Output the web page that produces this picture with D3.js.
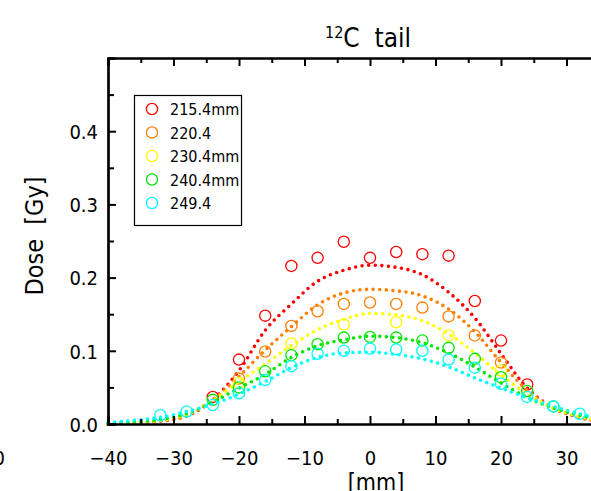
<!DOCTYPE html>
<html>
<head>
<meta charset="utf-8">
<script src="https://cdn.jsdelivr.net/npm/d3@7"></script>
<style>
  body { margin: 0; background: #fff; }
  svg { display: block; }
  text { font-family: "Liberation Sans Narrow", "DejaVu Sans Condensed", "Liberation Sans", sans-serif; fill: #000; }
</style>
</head>
<body>
<script>
// Data
var seriesNames = ['215.4mm', '220.4', '230.4mm', '240.4mm', '249.4'];
var colors = ['#ff0000', '#ff7f00', '#ffff00', '#00e600', '#00ffff'];

// measured points (mm positions every 4 mm, null = no marker)
var pointX = [-32, -28, -24, -20, -16, -12, -8, -4, 0, 4, 8, 12, 16, 20, 24, 28, 32];
var red    = [null, null, 0.037, 0.088, 0.148, 0.216, 0.227, 0.249, 0.227, 0.235, 0.232, 0.230, 0.168, 0.114, 0.054, null, null];
var orange = [null, null, null, 0.062, 0.099, 0.134, 0.154, 0.164, 0.166, 0.164, 0.159, 0.147, 0.121, 0.084, null, null, null];
var yellow = [null, null, null, 0.056, null, 0.110, null, 0.136, null, 0.139, null, 0.121, null, 0.073, null, null, null];
var green  = [null, null, 0.033, 0.050, 0.072, 0.094, 0.109, 0.118, 0.119, 0.118, 0.114, 0.104, 0.089, 0.064, 0.045, 0.024, null];
var cyan   = [0.012, 0.017, 0.026, 0.042, 0.060, 0.079, 0.096, 0.100, 0.103, 0.102, 0.100, 0.088, 0.077, 0.055, 0.037, 0.024, 0.014];

// fitted curves (read every 4 mm)
var fitX = [-40, -36, -32, -28, -24, -20, -16, -12, -8, -4, 0, 4, 8, 12, 16, 20, 24, 28, 32, 36, 40];
var redFit    = [0.000, 0.001, 0.004, 0.011, 0.033, 0.073, 0.128, 0.164, 0.195, 0.210, 0.217, 0.214, 0.204, 0.180, 0.145, 0.096, 0.049, 0.022, 0.009, 0.003, 0.001];
var orangeFit = [0.000, 0.001, 0.004, 0.011, 0.033, 0.065, 0.101, 0.133, 0.163, 0.179, 0.184, 0.182, 0.175, 0.157, 0.126, 0.084, 0.046, 0.022, 0.009, 0.003, 0.001];
var yellowFit = [0.001, 0.002, 0.005, 0.013, 0.032, 0.058, 0.082, 0.107, 0.129, 0.143, 0.151, 0.149, 0.141, 0.123, 0.097, 0.067, 0.041, 0.022, 0.010, 0.004, 0.001];
var greenFit  = [0.001, 0.003, 0.006, 0.014, 0.030, 0.049, 0.068, 0.091, 0.107, 0.115, 0.120, 0.118, 0.111, 0.097, 0.078, 0.056, 0.036, 0.022, 0.012, 0.005, 0.002];
var cyanFit   = [0.002, 0.005, 0.009, 0.017, 0.027, 0.041, 0.058, 0.077, 0.091, 0.097, 0.098, 0.095, 0.089, 0.078, 0.063, 0.049, 0.036, 0.024, 0.014, 0.007, 0.003];

var xTicks = [-40, -30, -20, -10, 0, 10, 20, 30];
var yTicks = [0.0, 0.1, 0.2, 0.3, 0.4];

var points = [red, orange, yellow, green, cyan];
var fits = [redFit, orangeFit, yellowFit, greenFit, cyanFit];

// Layout
var w = 591, h = 491;
var padLeft = 108, padRight = 632, padTop = 58, padBottom = 424;

var xScale = d3.scaleLinear().domain([-40, 40]).range([padLeft, padRight]);
var yScale = d3.scaleLinear().domain([0, 0.5]).range([padBottom, padTop]);

var svg = d3.select('body').append('svg')
  .attr('width', w)
  .attr('height', h);

// title
var title = svg.append('text')
  .attr('x', 368)
  .attr('y', 47)
  .attr('text-anchor', 'middle')
  .style('font-size', '26px');
title.append('tspan').attr('dy', '-9').style('font-size', '16px').text('12');
title.append('tspan').attr('dy', '9').text('C\u00a0\u00a0tail');

// series
var line = d3.line()
  .x(function(d) { return xScale(d[0]); })
  .y(function(d) { return yScale(d[1]); })
  .curve(d3.curveMonotoneX);

var plot = svg.append('g');

points.forEach(function(vals, i) {
  var fitData = fitX.map(function(x, j) { return [x, fits[i][j]]; });
  plot.append('path')
    .datum(fitData)
    .attr('d', line)
    .attr('fill', 'none')
    .attr('stroke', colors[i])
    .attr('stroke-width', 3.6)
    .attr('stroke-linecap', 'round')
    .attr('stroke-dasharray', '0 6.6');

  var ptData = pointX.map(function(x, j) { return [x, vals[j]]; })
    .filter(function(d) { return d[1] !== null; });
  plot.selectAll('circle.s' + i)
    .data(ptData)
    .enter()
    .append('circle')
    .attr('class', 's' + i)
    .attr('cx', function(d) { return xScale(d[0]); })
    .attr('cy', function(d) { return yScale(d[1]); })
    .attr('r', 5.6)
    .attr('fill', 'none')
    .attr('stroke', colors[i])
    .attr('stroke-width', 1.3);
});

// axes (ticks point inward)
var xMajor = d3.axisBottom(xScale).tickValues(xTicks).tickSize(-8).tickFormat(d3.format('d'));
var xMinor = d3.axisBottom(xScale).tickValues(d3.range(-35, 40, 10)).tickSize(-5).tickFormat('');
var xTopMajor = d3.axisTop(xScale).tickValues(xTicks).tickSize(-8).tickFormat('');
var xTopMinor = d3.axisTop(xScale).tickValues(d3.range(-35, 40, 10)).tickSize(-5).tickFormat('');
var yMajor = d3.axisLeft(yScale).tickValues(yTicks).tickSize(-8).tickFormat(d3.format('.1f'));
var yMinor = d3.axisLeft(yScale).tickValues([0.05, 0.15, 0.25, 0.35, 0.45]).tickSize(-6).tickFormat('');

function styleAxis(g) {
  g.select('.domain').attr('stroke', '#000').attr('stroke-width', 2.2);
  g.selectAll('.tick line').attr('stroke', '#000').attr('stroke-width', 2);
}

svg.append('g').attr('class', 'x axis')
  .attr('transform', 'translate(0,' + padBottom + ')')
  .call(xMajor).call(styleAxis)
  .selectAll('.tick text')
  .attr('dy', 0).attr('y', 41)
  .style('font-size', '20px')
  .style('font-family', '"Liberation Sans Narrow", "DejaVu Sans Condensed", sans-serif');
svg.append('g').attr('transform', 'translate(0,' + padBottom + ')').call(xMinor).call(styleAxis);
svg.append('g').attr('transform', 'translate(0,' + padTop + ')').call(xTopMajor).call(styleAxis);
svg.append('g').attr('transform', 'translate(0,' + padTop + ')').call(xTopMinor).call(styleAxis);

svg.append('g').attr('class', 'y axis')
  .attr('transform', 'translate(' + padLeft + ',0)')
  .call(yMajor).call(styleAxis)
  .selectAll('.tick text')
  .attr('x', -10)
  .attr('dy', '0.36em')
  .style('font-size', '20px')
  .style('font-family', '"Liberation Sans Narrow", "DejaVu Sans Condensed", sans-serif');
svg.append('g').attr('transform', 'translate(' + padLeft + ',0)').call(yMinor).call(styleAxis);

// axis titles
svg.append('text')
  .attr('x', 376)
  .attr('y', 490)
  .attr('text-anchor', 'middle')
  .style('font-size', '23px')
  .text('[mm]');

svg.append('text')
  .attr('transform', 'translate(43,236) rotate(-90)')
  .attr('text-anchor', 'middle')
  .style('font-size', '25px')
  .text('Dose\u00a0\u00a0[Gy]');

// clipped label of the neighbouring panel
svg.append('text')
  .attr('x', 5)
  .attr('y', 465)
  .attr('text-anchor', 'end')
  .style('font-size', '20px')
  .text('40');

// legend
var legend = svg.append('g');
legend.append('rect')
  .attr('x', 134.5).attr('y', 95.5)
  .attr('width', 107).attr('height', 130)
  .attr('fill', '#fff')
  .attr('stroke', '#000')
  .attr('stroke-width', 1.2);

seriesNames.forEach(function(name, i) {
  var y = 109 + i * 23.5;
  legend.append('circle')
    .attr('cx', 152).attr('cy', y).attr('r', 5.6)
    .attr('fill', 'none')
    .attr('stroke', colors[i])
    .attr('stroke-width', 1.3);
  legend.append('text')
    .attr('x', 170).attr('y', y + 6)
    .style('font-size', '16px')
    .text(name);
});
</script>
</body>
</html>
